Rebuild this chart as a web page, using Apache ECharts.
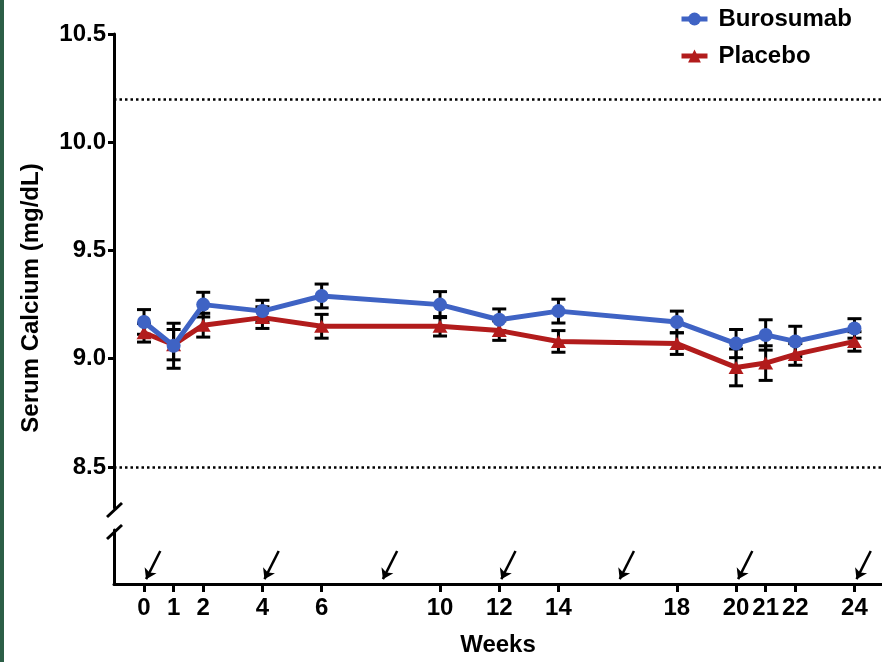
<!DOCTYPE html>
<html>
<head>
<meta charset="utf-8">
<script src="https://cdn.jsdelivr.net/npm/echarts@6/dist/echarts.min.js"></script>
<style>
html,body{margin:0;padding:0;background:#fff;}
#chart{width:882px;height:662px;}
</style>
</head>
<body>
<div id="chart"></div>
<script>
// ---- data ----
const weeks = [0, 1, 2, 4, 6, 10, 12, 14, 18, 20, 21, 22, 24];
const burosumab = [9.17, 9.06, 9.25, 9.22, 9.29, 9.25, 9.18, 9.22, 9.17, 9.07, 9.11, 9.08, 9.14];
const burosumabErr = [0.057, 0.104, 0.057, 0.05, 0.055, 0.06, 0.05, 0.055, 0.05, 0.065, 0.07, 0.07, 0.045];
const placebo = [9.12, 9.065, 9.155, 9.19, 9.15, 9.15, 9.13, 9.08, 9.07, 8.96, 8.98, 9.02, 9.08];
const placeboErr = [0.043, 0.07, 0.055, 0.05, 0.055, 0.045, 0.045, 0.05, 0.05, 0.085, 0.08, 0.05, 0.045];
const dosingWeeks = [0, 4, 8, 12, 16, 20, 24];
const refLines = [10.2, 8.5];
const yTicks = [8.5, 9.0, 9.5, 10.0, 10.5];
const xTicks = [0, 1, 2, 4, 6, 10, 12, 14, 18, 20, 21, 22, 24];

const FONT = "'Liberation Sans', Arial, Helvetica, sans-serif";
const BLUE = '#3f63c4';
const RED = '#b21c1c';

const chart = echarts.init(document.getElementById('chart'), null, {renderer: 'canvas'});

function errRender(params, api) {
  const lo = api.coord([api.value(0), api.value(1)]);
  const hi = api.coord([api.value(0), api.value(2)]);
  const hw = 7;
  const st = {stroke: '#000', lineWidth: 3};
  return {
    type: 'group',
    children: [
      {type: 'line', shape: {x1: lo[0], y1: lo[1], x2: hi[0], y2: hi[1]}, style: st},
      {type: 'line', shape: {x1: lo[0] - hw, y1: lo[1], x2: lo[0] + hw, y2: lo[1]}, style: st},
      {type: 'line', shape: {x1: hi[0] - hw, y1: hi[1], x2: hi[0] + hw, y2: hi[1]}, style: st}
    ]
  };
}

const XMIN = -1.014, XMAX = 24.93;

const option = {
  animation: false,
  backgroundColor: '#fff',
  textStyle: {fontFamily: FONT},
  grid: [
    {left: 114, right: 0, top: 34, height: 474},
    {left: 114, right: 0, top: 530, height: 54}
  ],
  legend: {
    orient: 'vertical',
    left: 679,
    top: 7,
    padding: 0,
    itemWidth: 26,
    itemHeight: 16,
    itemGap: 13,
    lineStyle: {width: 5},
    textStyle: {fontSize: 24, fontWeight: 'bold', color: '#000', fontFamily: FONT, padding: [0, 0, 0, 6]},
    data: ['Burosumab', 'Placebo']
  },
  xAxis: [
    {type: 'value', gridIndex: 0, min: XMIN, max: XMAX, show: false},
    {
      type: 'value', gridIndex: 1, min: XMIN, max: XMAX,
      axisLine: {show: true, onZero: false, lineStyle: {color: '#000', width: 3}},
      axisTick: {show: true, customValues: xTicks, length: 8, lineStyle: {color: '#000', width: 3}},
      axisLabel: {customValues: xTicks, margin: 12, fontSize: 24, fontWeight: 'bold', color: '#000', fontFamily: FONT},
      splitLine: {show: false},
      name: 'Weeks', nameLocation: 'middle', nameGap: 49,
      nameTextStyle: {fontSize: 24, fontWeight: 'bold', color: '#000', fontFamily: FONT}
    }
  ],
  yAxis: [
    {
      type: 'value', gridIndex: 0, min: 8.3106, max: 10.5,
      axisLine: {show: true, onZero: false, lineStyle: {color: '#000', width: 3}},
      axisTick: {show: true, customValues: yTicks, length: 6, lineStyle: {color: '#000', width: 3}},
      axisLabel: {customValues: yTicks, margin: 8, fontSize: 24, fontWeight: 'bold', color: '#000', fontFamily: FONT,
        formatter: v => v.toFixed(1)},
      splitLine: {show: false}
    },
    {
      type: 'value', gridIndex: 1, min: 0, max: 1,
      axisLine: {show: true, onZero: false, lineStyle: {color: '#000', width: 3}},
      axisTick: {show: false}, axisLabel: {show: false}, splitLine: {show: false}
    }
  ],
  graphic: [
    {type: 'rect', left: 0, top: 0, shape: {width: 4, height: 662}, style: {fill: '#2c5f47'}},
    {type: 'line', shape: {x1: 107, y1: 517, x2: 122, y2: 503}, style: {stroke: '#000', lineWidth: 3}},
    {type: 'line', shape: {x1: 107, y1: 539, x2: 122, y2: 525}, style: {stroke: '#000', lineWidth: 3}},
    {type: 'text', x: 31, y: 298, rotation: Math.PI / 2,
      style: {text: 'Serum Calcium (mg/dL)', fontSize: 24, fontWeight: 'bold', fill: '#000', fontFamily: FONT,
        align: 'center', verticalAlign: 'middle'}}
  ],
  series: [
    {
      name: 'Burosumab SE', type: 'custom', xAxisIndex: 0, yAxisIndex: 0, z: 1,
      renderItem: errRender,
      data: weeks.map((w, i) => [w, burosumab[i] - burosumabErr[i], burosumab[i] + burosumabErr[i]])
    },
    {
      name: 'Placebo SE', type: 'custom', xAxisIndex: 0, yAxisIndex: 0, z: 1,
      renderItem: errRender,
      data: weeks.map((w, i) => [w, placebo[i] - placeboErr[i], placebo[i] + placeboErr[i]])
    },
    {
      name: 'Placebo', type: 'line', xAxisIndex: 0, yAxisIndex: 0, z: 3,
      symbol: 'triangle', symbolSize: [15, 13],
      itemStyle: {color: RED},
      lineStyle: {color: RED, width: 5},
      data: weeks.map((w, i) => [w, placebo[i]])
    },
    {
      name: 'Burosumab', type: 'line', xAxisIndex: 0, yAxisIndex: 0, z: 4,
      symbol: 'circle', symbolSize: 14,
      itemStyle: {color: BLUE},
      lineStyle: {color: BLUE, width: 5},
      data: weeks.map((w, i) => [w, burosumab[i]]),
      markLine: {
        silent: true, symbol: 'none', label: {show: false},
        lineStyle: {color: '#000', type: [2.5, 3], width: 2.5},
        data: refLines.map(v => ({yAxis: v}))
      }
    },
    {
      name: 'Dosing', type: 'lines', coordinateSystem: 'cartesian2d', xAxisIndex: 1, yAxisIndex: 1,
      symbol: ['none', 'arrow'], symbolSize: 10,
      lineStyle: {color: '#000', width: 2.5, opacity: 1, curveness: 0},
      data: dosingWeeks.map(w => ({coords: [[w + 0.55, 0.61], [w + 0.07, 0.09]]}))
    }
  ]
};
chart.setOption(option);
</script>
</body>
</html>
